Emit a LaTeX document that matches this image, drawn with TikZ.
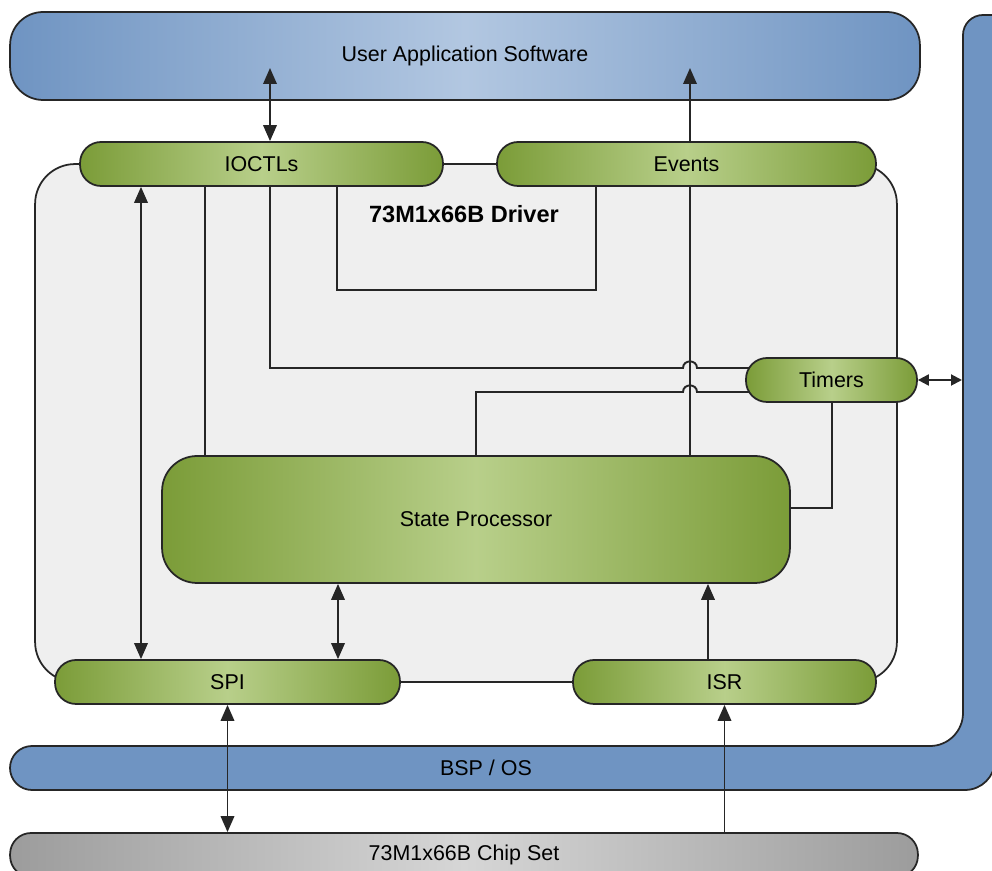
\documentclass[tikz,border=0pt]{standalone}
\usepackage{fontspec}
\setmainfont{Liberation Sans}
\usepackage{xcolor}
\usepackage{tikz}
\usetikzlibrary{arrows.meta,positioning,calc}

\definecolor{barblue}{HTML}{6F94C2}
\definecolor{barbluelt}{HTML}{B2C7E1}
\definecolor{pillgreen}{HTML}{7B9C38}
\definecolor{pillgreenlt}{HTML}{B8CF8A}
\definecolor{chipgray}{HTML}{9C9C9C}
\definecolor{chipgraylt}{HTML}{D6D6D6}
\definecolor{drvfill}{HTML}{EFEFEF}
\definecolor{edgegray}{HTML}{262626}

\pgfdeclarelayer{bg}
\pgfdeclarelayer{wires}
\pgfsetlayers{bg,wires,main}

\begin{document}
\begin{tikzpicture}[x=0.02cm,y=-0.02cm,font=\fontsize{12.2}{14}\selectfont,
  >={Triangle[length=0.32cm,width=0.27cm]},
  pill/.style={draw=edgegray,line width=1pt,rounded corners=0.42cm,
    left color=pillgreen,right color=pillgreen,middle color=pillgreenlt,
    minimum height=0.88cm,inner sep=0pt},
  wire/.style={draw=edgegray,line width=1.1pt}]
\useasboundingbox (0,0) rectangle (992,871);

\begin{pgfonlayer}{bg}
% application bar and the OS frame
\node[draw=edgegray,line width=1pt,rounded corners=0.66cm,
  left color=barblue,right color=barblue,middle color=barbluelt,
  minimum width=18.2cm,minimum height=1.76cm] (user) at (465,56) {User Application Software};
\draw[draw=edgegray,line width=1pt,fill=barblue] (32,746) -- (930,746)
  arc[start angle=270,end angle=360,radius=0.66cm] -- (963,35)
  arc[start angle=180,end angle=90,radius=0.4cm] -- (995,15) -- (995,760)
  arc[start angle=0,end angle=-90,radius=0.6cm] -- (32,790)
  arc[start angle=270,end angle=90,radius=0.44cm] -- cycle;
\node (bsp) at (486,768) {BSP / OS};
% driver frame
\node[draw=edgegray,line width=1pt,fill=drvfill,rounded corners=0.8cm,
  minimum width=17.24cm,minimum height=10.36cm] (driver) at (466,423) {};
\node[font=\fontsize{13.4}{16}\selectfont\bfseries] (drvlabel) at (464,214) {73M1x66B Driver};
\end{pgfonlayer}

\node[pill,minimum width=7.26cm] (ioctl) at (261.5,164) {IOCTLs};
\node[pill,minimum width=7.58cm] (events) at (686.5,164) {Events};
\node[pill,minimum width=3.42cm] (timers) at (831.5,380) {Timers};
\node[pill,rounded corners=0.7cm,minimum width=12.56cm,minimum height=2.54cm] (state) at (476,519.5) {State Processor};
\node[pill,minimum width=6.9cm] (spi) at (227.5,682) {SPI};
\node[pill,minimum width=6.06cm] (isr) at (724.5,682) {ISR};
\node[draw=edgegray,line width=1pt,rounded corners=0.42cm,
  left color=chipgray,right color=chipgray,middle color=chipgraylt,
  minimum width=18.16cm,minimum height=0.88cm,inner sep=0pt] (chip) at (464,855) {73M1x66B Chip Set};

% wire corners
\coordinate (ioA) at (270,68);
\coordinate (evA) at (690,68);
\coordinate (bA) at (337,290);
\coordinate (bB) at (596,290);
\coordinate (bC) at (270,368);
\coordinate (bD) at (476,392);
\coordinate (bE) at (832,508);
\coordinate (hop) at (690,0);
\coordinate (spA) at (141,0);
\coordinate (spB) at (205,0);
\coordinate (spC) at (338,0);
\coordinate (isA) at (708,0);
\coordinate (osA) at (962,380);

\begin{pgfonlayer}{wires}
\draw[wire,<->] (ioA) -- (ioA |- ioctl.north);
\draw[wire,->] (events.north -| evA) -- (evA);
\draw[wire] (state.north -| evA) -- (events.south -| evA);
\draw[wire] (ioctl.south -| bA) -- (bA) -- (bB) -- (events.south -| bB);
\draw[wire] (ioctl.south -| bC) -- (bC) -- ($(hop |- bC)+(-7,0)$)
  to[out=90,in=90,looseness=1.6] ($(hop |- bC)+(7,0)$) -- (timers.center |- bC);
\draw[wire] (state.north -| bD) -- (bD) -- ($(hop |- bD)+(-7,0)$)
  to[out=90,in=90,looseness=1.6] ($(hop |- bD)+(7,0)$) -- (timers.center |- bD);
\draw[wire] (timers.south -| bE) -- (bE) -- (state.center |- bE);
\draw[wire] (ioctl.south -| spB) -- (state.north -| spB);
\draw[wire,<->] (ioctl.south -| spA) -- (spi.north -| spA);
\draw[wire,<->] (state.south -| spC) -- (spi.north -| spC);
\draw[wire,->] (isr.north -| isA) -- (state.south -| isA);
\draw[wire,<->] (spi.south) -- (spi.south |- chip.north);
\draw[wire,->] (chip.north -| isr.south) -- (isr.south);
\draw[wire,{Triangle[length=0.22cm,width=0.22cm]}-{Triangle[length=0.22cm,width=0.22cm]}] (timers.east) -- (osA);
\end{pgfonlayer}
\end{tikzpicture}
\end{document}
